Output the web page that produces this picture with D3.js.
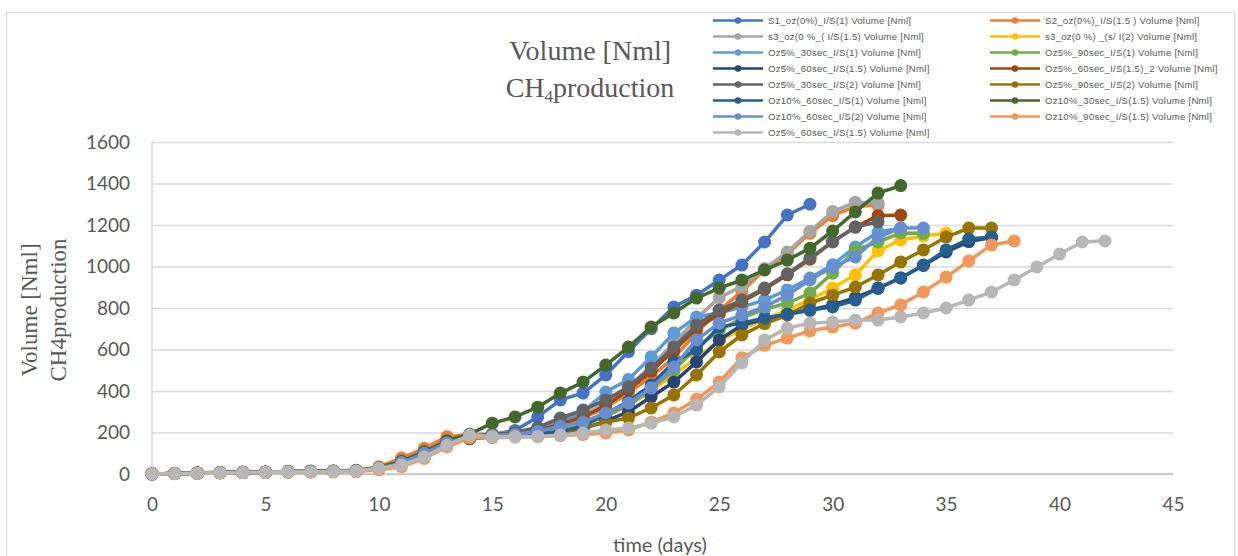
<!DOCTYPE html>
<html>
<head>
<meta charset="utf-8">
<script src="https://cdn.jsdelivr.net/npm/d3@7/dist/d3.min.js"></script>
<style>
  body { margin: 0; background: #fff; }
  svg { display: block; }
  .tick text { fill: #595959; font-family: Lato, "Liberation Sans", sans-serif; font-size: 19px; }
  .legend text { fill: #595959; font-family: "Liberation Sans", Arial, sans-serif; font-size: 9.6px; letter-spacing: 0.25px; }
</style>
</head>
<body>
<svg id="chart" width="1238" height="556"></svg>
<script>
(function (d3) {
    'use strict';

    // days run 0..n for every series, one value per day (Nml)
    var s1_oz0_is1 = [0, 2, 4, 6, 7, 8, 10, 11, 12, 14,
        25, 55, 100, 150, 170, 190, 210, 275, 357, 390,
        477, 590, 700, 805, 862, 935, 1007, 1118, 1248, 1300];
    var s2_oz0_is15 = [0, 3, 6, 8, 9, 10, 12, 13, 14, 17,
        35, 77, 124, 180, 190, 192, 195, 205, 235, 270,
        320, 390, 470, 560, 680, 790, 880, 985, 1060, 1160,
        1245, 1290, 1295];
    var s3_oz0_is15 = [0, 2, 5, 7, 8, 9, 11, 12, 13, 16,
        30, 62, 110, 160, 185, 195, 200, 215, 245, 285,
        340, 420, 520, 630, 750, 850, 905, 990, 1070, 1170,
        1265, 1310, 1305];
    var s3_oz0_is2 = [0, 2, 4, 6, 8, 9, 10, 12, 13, 15,
        26, 55, 100, 150, 178, 185, 190, 200, 215, 240,
        280, 330, 400, 480, 560, 640, 700, 745, 790, 840,
        896, 960, 1075, 1128, 1147, 1160];
    var oz5_30_is1 = [0, 2, 4, 6, 8, 9, 11, 12, 13, 15,
        27, 58, 105, 155, 180, 188, 195, 215, 250, 300,
        395, 455, 564, 679, 757, 776, 805, 838, 887, 944,
        1008, 1094, 1166, 1185];
    var oz5_90_is1 = [0, 2, 4, 6, 8, 9, 10, 12, 13, 15,
        25, 52, 98, 148, 175, 183, 188, 198, 210, 235,
        280, 330, 410, 500, 610, 690, 752, 795, 823, 872,
        968, 1080, 1118, 1162, 1160];
    var oz5_60_is15 = [0, 2, 4, 6, 7, 8, 10, 11, 12, 14,
        24, 50, 95, 145, 172, 180, 185, 190, 200, 220,
        255, 300, 371, 443, 540, 646, 718, 745, 770, 790,
        815, 850, 895, 945, 1005, 1070, 1120, 1140];
    var oz5_60_is15_2 = [0, 3, 5, 7, 8, 9, 11, 12, 13, 15,
        30, 62, 108, 158, 182, 190, 195, 210, 240, 275,
        330, 405, 495, 595, 700, 770, 830, 890, 960, 1035,
        1120, 1190, 1245, 1248];
    var oz5_30_is2 = [0, 2, 4, 6, 8, 9, 11, 12, 13, 15,
        28, 60, 105, 155, 180, 190, 200, 225, 270, 308,
        357, 420, 511, 612, 718, 790, 838, 896, 965, 1041,
        1118, 1190, 1215];
    var oz5_90_is2 = [0, 2, 4, 6, 7, 8, 10, 11, 12, 14,
        24, 50, 95, 145, 170, 178, 182, 188, 200, 220,
        250, 270, 318, 381, 477, 588, 670, 725, 765, 823,
        862, 901, 959, 1022, 1080, 1142, 1185, 1185];
    var oz10_60_is1 = [0, 2, 4, 6, 7, 8, 10, 11, 12, 14,
        25, 52, 97, 147, 172, 180, 186, 192, 205, 230,
        290, 350, 429, 540, 598, 708, 727, 752, 770, 790,
        805, 838, 896, 945, 1007, 1080, 1132, 1142];
    var oz10_30_is15 = [0, 3, 5, 7, 9, 10, 12, 14, 15, 18,
        30, 60, 105, 160, 192, 245, 275, 322, 390, 443,
        525, 612, 708, 776, 848, 896, 935, 983, 1031, 1088,
        1171, 1263, 1354, 1390];
    var oz10_60_is2 = [0, 2, 4, 6, 8, 9, 11, 12, 13, 15,
        26, 55, 100, 150, 178, 185, 190, 205, 230, 250,
        294, 342, 414, 516, 646, 727, 766, 805, 862, 935,
        998, 1046, 1142, 1185, 1185];
    var oz10_90_is15 = [0, 1, 3, 5, 6, 7, 8, 9, 10, 12,
        20, 35, 75, 130, 175, 175, 178, 180, 185, 190,
        197, 212, 250, 294, 360, 443, 560, 620, 655, 690,
        708, 727, 776, 815, 877, 949, 1027, 1104, 1123];
    var oz5_60_is15_b = [0, 2, 4, 6, 7, 8, 10, 11, 12, 14,
        29, 43, 82, 138, 188, 180, 180, 180, 188, 197,
        212, 222, 245, 275, 332, 420, 535, 646, 703, 727,
        733, 742, 742, 757, 776, 800, 838, 877, 935, 998,
        1060, 1118, 1123];

    var seriesNames = [
        'S1_oz(0%)_I/S(1)  Volume [Nml]',
        'S2_oz(0%)_I/S(1.5 ) Volume [Nml]',
        's3_oz(0 %_( I/S(1.5) Volume [Nml]',
        's3_oz(0 %) _(s/ I(2) Volume [Nml]',
        'Oz5%_30sec_I/S(1) Volume [Nml]',
        'Oz5%_90sec_I/S(1) Volume [Nml]',
        'Oz5%_60sec_I/S(1.5) Volume [Nml]',
        'Oz5%_60sec_I/S(1.5)_2 Volume [Nml]',
        'Oz5%_30sec_I/S(2) Volume [Nml]',
        'Oz5%_90sec_I/S(2) Volume [Nml]',
        'Oz10%_60sec_I/S(1) Volume [Nml]',
        'Oz10%_30sec_I/S(1.5) Volume [Nml]',
        'Oz10%_60sec_I/S(2) Volume [Nml]',
        'Oz10%_90sec_I/S(1.5) Volume [Nml]',
        'Oz5%_60sec_I/S(1.5) Volume [Nml]'
    ];
    var seriesValues = [s1_oz0_is1, s2_oz0_is15, s3_oz0_is15, s3_oz0_is2,
        oz5_30_is1, oz5_90_is1, oz5_60_is15, oz5_60_is15_2, oz5_30_is2,
        oz5_90_is2, oz10_60_is1, oz10_30_is15, oz10_60_is2, oz10_90_is15,
        oz5_60_is15_b];
    var colors = ['#4472C4', '#ED7D31', '#A5A5A5', '#FFC000', '#5B9BD5',
        '#70AD47', '#264478', '#9E480E', '#636363', '#997300',
        '#255E91', '#43682B', '#698ED0', '#F1975A', '#B7B7B7'];

    var xTicks = [0, 5, 10, 15, 20, 25, 30, 35, 40, 45];
    var yTicks = [0, 200, 400, 600, 800, 1000, 1200, 1400, 1600];

    var svg = d3.select('#chart'),
        left = 152, right = 1173, top = 142, bottom = 474;

    var x = d3.scaleLinear().domain([0, 45]).range([left, right]),
        y = d3.scaleLinear().domain([0, 1600]).range([bottom, top]);

    // chart frame
    svg.append('rect')
        .attr('x', 6.5).attr('y', 12.5).attr('width', 1228).attr('height', 560)
        .attr('fill', '#fff').attr('stroke', '#D9D9D9').attr('stroke-width', 1.3);

    // gridlines + y labels
    var yAxis = svg.append('g')
        .attr('transform', 'translate(' + left + ',0)')
        .call(d3.axisLeft(y).tickValues(yTicks).tickFormat(d3.format('d'))
            .tickSize(-(right - left)).tickPadding(22));
    yAxis.select('.domain').remove();
    yAxis.selectAll('.tick line').attr('stroke', '#D9D9D9').attr('stroke-width', 1.5);

    var xAxis = svg.append('g')
        .attr('transform', 'translate(0,' + bottom + ')')
        .call(d3.axisBottom(x).tickValues(xTicks).tickSize(0).tickPadding(24));
    xAxis.select('.domain').remove();

    svg.append('line')
        .attr('x1', left).attr('x2', left).attr('y1', top).attr('y2', bottom)
        .attr('stroke', '#D9D9D9').attr('stroke-width', 1.5);
    svg.append('line')
        .attr('x1', left).attr('x2', right).attr('y1', bottom).attr('y2', bottom)
        .attr('stroke', '#BFBFBF').attr('stroke-width', 1.5);

    // series
    var line = d3.line()
        .x(function (d, i) { return x(i); })
        .y(function (d) { return y(d); });

    seriesValues.forEach(function (values, k) {
        var g = svg.append('g');
        g.append('path')
            .datum(values)
            .attr('d', line)
            .attr('fill', 'none')
            .attr('stroke', colors[k])
            .attr('stroke-width', 3.5)
            .attr('stroke-linejoin', 'round');
        g.selectAll('circle').data(values).enter().append('circle')
            .attr('cx', function (d, i) { return x(i); })
            .attr('cy', function (d) { return y(d); })
            .attr('r', 6.5)
            .attr('fill', colors[k]);
    });

    // titles
    var title = svg.append('text')
        .attr('text-anchor', 'middle')
        .attr('fill', '#595959')
        .style('font-family', '"Liberation Serif", "DejaVu Serif", serif')
        .style('font-size', '28px');
    title.append('tspan').attr('x', 590).attr('y', 60).text('Volume [Nml]');
    var t2 = title.append('tspan').attr('x', 590).attr('y', 97);
    t2.append('tspan').text('CH');
    t2.append('tspan').attr('font-size', '17px').attr('dy', 5).text('4');
    t2.append('tspan').attr('dy', -5).text('production');

    var yTitle = svg.append('text')
        .attr('transform', 'translate(0,310) rotate(-90)')
        .attr('text-anchor', 'middle')
        .attr('fill', '#595959')
        .style('font-family', '"Liberation Serif", "DejaVu Serif", serif')
        .style('font-size', '23px');
    yTitle.append('tspan').attr('x', 0).attr('y', 37).text('Volume [Nml]');
    yTitle.append('tspan').attr('x', 0).attr('y', 66).text('CH4production');

    svg.append('text')
        .attr('x', 660).attr('y', 552)
        .attr('text-anchor', 'middle')
        .attr('fill', '#595959')
        .style('font-family', 'Lato, "Liberation Sans", sans-serif')
        .style('font-size', '20px')
        .text('time (days)');

    // legend, two columns, row-wise
    var legend = svg.append('g').attr('class', 'legend');
    seriesNames.forEach(function (name, k) {
        var col = k % 2, row = Math.floor(k / 2),
            lx = col ? 990 : 713,
            ly = 20.5 + row * 16;
        legend.append('line')
            .attr('x1', lx).attr('x2', lx + 50).attr('y1', ly).attr('y2', ly)
            .attr('stroke', colors[k]).attr('stroke-width', 2.5);
        legend.append('circle')
            .attr('cx', lx + 25).attr('cy', ly).attr('r', 3.3).attr('fill', colors[k]);
        legend.append('text')
            .attr('x', lx + 55).attr('y', ly + 3.3)
            .text(name);
    });
}(window.d3));
</script>
</body>
</html>
